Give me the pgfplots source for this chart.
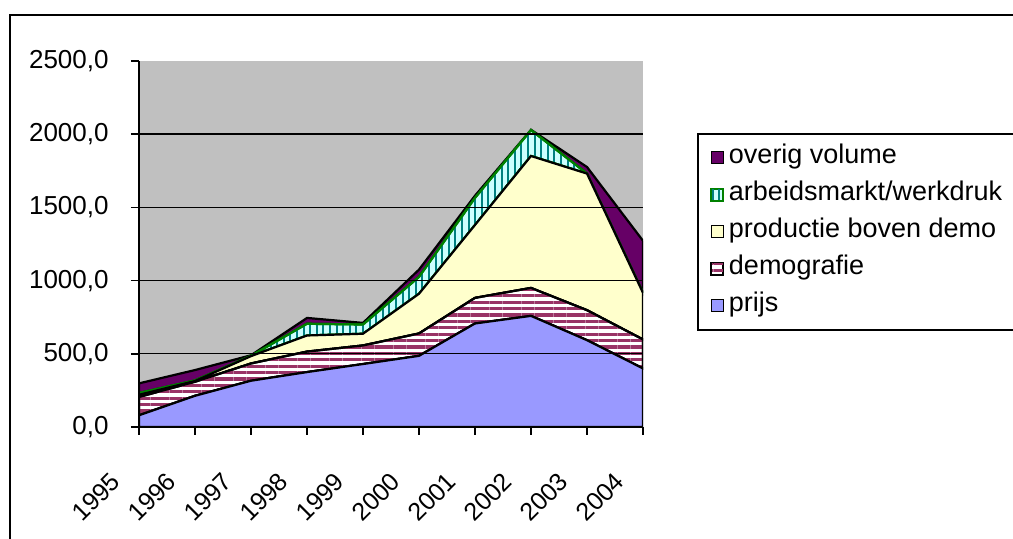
\documentclass[border=0pt]{standalone}
\usepackage{pgfplots}
\pgfplotsset{compat=1.18}
\usepackage{pgfplotstable}
\usetikzlibrary{patterns.meta}
\usepackage{fontspec}
\setmainfont{Liberation Sans}

\definecolor{prijs}{RGB}{153,153,255}
\definecolor{demo}{RGB}{153,51,102}
\definecolor{prod}{RGB}{255,255,204}
\definecolor{arbfill}{RGB}{204,255,255}
\definecolor{arbline}{RGB}{0,128,128}
\definecolor{arbedge}{RGB}{0,128,0}
\definecolor{overig}{RGB}{102,0,102}
\definecolor{plotbg}{RGB}{192,192,192}

% values per series (stacked)
\pgfplotstableread{
x year prijs demo prod arb overig
0 1995  80 125  15  12  66
1 1996 213  96   5   4  71
2 1997 316 118  50   2   4
3 1998 375 140 110  80  40
4 1999 430 127  80  63  11
5 2000 486 153 271 115  50
6 2001 707 175 498 185  15
7 2002 759 191 901 177   2
8 2003 593 205 933   0  45
9 2004 400 198 318   0 356
}\datatable

\begin{document}
\begin{tikzpicture}[font=\fontsize{13.5}{16}\selectfont]
\clip (0,0) rectangle (506.5pt,-269.5pt);
% outer chart frame (right and bottom edges lie outside the picture)
\draw[line width=1pt] (5pt,-600pt) |- (700pt,-7.5pt);

\begin{axis}[
  at={(69.5pt,-213.5pt)}, anchor=south west,
  scale only axis,
  width=252pt, height=183pt,
  xmin=0, xmax=9,
  ymin=0, ymax=2500,
  stack plots=y,
  area style,
  axis lines=left,
  axis line style={-, line width=1pt, black},
  axis background/.style={fill=plotbg},
  tick align=outside,
  major tick length=4pt,
  tick style={line width=0.8pt, black},
  xtick={0,...,9},
  xticklabels={1995,1996,1997,1998,1999,2000,2001,2002,2003,2004},
  xticklabel style={font=\fontsize{12.5}{14}\selectfont, inner sep=0pt,
    anchor=east, xshift=-11.5pt, yshift=-21pt, rotate=45},
  ytick={0,500,1000,1500,2000},
  yticklabels={0{,}0,500{,}0,1000{,}0,1500{,}0,2000{,}0},
  extra y ticks={2500},
  extra y tick labels={2500{,}0},
  extra y tick style={grid=none},
  yticklabel style={font=\fontsize{13}{15}\selectfont, inner sep=0pt,
    anchor=east, xshift=-11pt},
  ymajorgrids,
  major grid style={line width=0.7pt, black},
  reverse legend,
  legend style={at={(1.1071,0.8033)}, anchor=north west,
    draw=black, line width=0.8pt, fill=white,
    inner xsep=6.5pt, inner ysep=5.5pt, row sep=5.5pt,
    column sep=2.5pt,
    nodes={inner sep=0pt, text height=9.5pt, text depth=3.5pt}},
  legend cell align=left,
  legend image code/.code={\draw[#1, line width=0.6pt] (0pt,-3pt) rectangle (6pt,3pt);},
]
\addplot[draw=black, line width=1.1pt, fill=prijs]
  table[x=x, y=prijs]{\datatable} \closedcycle;
\addlegendentry{\makebox[150pt][l]{prijs}}

\addplot[draw=black, line width=1.1pt, preaction={fill=white},
  pattern={Lines[angle=0, distance=3.2pt, line width=1.6pt]}, pattern color=demo]
  table[x=x, y=demo]{\datatable} \closedcycle;
\addlegendentry{\makebox[150pt][l]{demografie}}

\addplot[draw=black, line width=1.1pt, fill=prod]
  table[x=x, y=prod]{\datatable} \closedcycle;
\addlegendentry{\makebox[150pt][l]{productie boven demo}}

\addplot[draw=arbedge, line width=1.1pt, preaction={fill=arbfill},
  pattern={Lines[angle=90, distance=3.3pt, line width=1pt]}, pattern color=arbline]
  table[x=x, y=arb]{\datatable} \closedcycle;
\addlegendentry{\makebox[150pt][l]{arbeidsmarkt/werkdruk}}

\addplot[draw=black, line width=1.1pt, fill=overig]
  table[x=x, y=overig]{\datatable} \closedcycle;
\addlegendentry{\makebox[150pt][l]{overig volume}}
\end{axis}
\end{tikzpicture}
\end{document}
